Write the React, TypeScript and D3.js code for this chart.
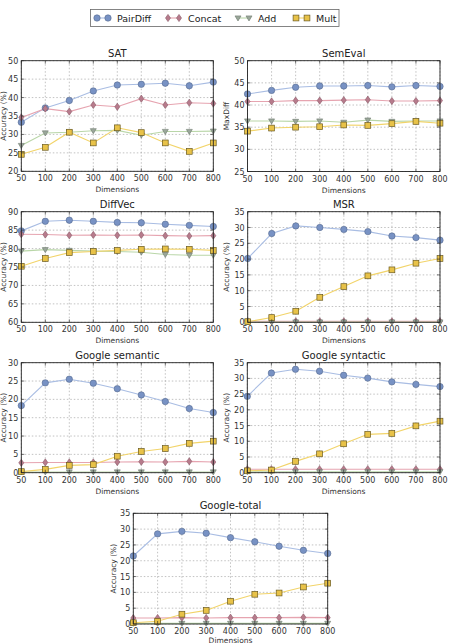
import React from "react";
import * as d3 from "d3";

const dims = ["50", "100", "200", "300", "400", "500", "600", "700", "800"];
const seriesNames = ["PairDiff", "Concat", "Add", "Mult"];

const satPairDiff = [33.3, 37.2, 39.2, 41.8, 43.4, 43.6, 43.9, 43.2, 44.2];
const satConcat = [34.6, 37.0, 36.2, 38.0, 37.5, 39.7, 38.0, 38.6, 38.4];
const satAdd = [27.0, 30.4, 30.6, 31.0, 31.1, 29.8, 30.8, 30.8, 30.9];
const satMult = [24.6, 26.5, 30.6, 27.7, 31.8, 30.5, 27.7, 25.4, 27.7];

const semPairDiff = [42.5, 43.3, 44.0, 44.3, 44.3, 44.4, 44.1, 44.4, 44.2];
const semConcat = [40.8, 40.8, 41.0, 41.0, 41.1, 41.2, 40.9, 40.9, 41.0];
const semAdd = [36.4, 36.4, 36.3, 36.4, 36.1, 36.6, 36.3, 36.4, 36.4];
const semMult = [34.1, 34.8, 35.0, 35.1, 35.5, 35.4, 35.8, 36.3, 35.9];

const dvPairDiff = [84.8, 87.4, 87.7, 87.4, 87.1, 87.0, 86.6, 86.3, 86.0];
const dvConcat = [83.9, 83.8, 83.6, 83.7, 83.6, 83.7, 83.5, 83.4, 83.5];
const dvAdd = [79.3, 79.7, 79.5, 79.3, 79.2, 79.0, 78.4, 78.2, 78.2];
const dvMult = [75.2, 77.3, 78.9, 79.2, 79.5, 79.8, 79.9, 79.8, 79.5];

const msrPairDiff = [20.2, 28.1, 30.5, 30.0, 29.4, 28.7, 27.3, 26.8, 26.0];
const msrConcat = [0.3, 0.3, 0.3, 0.3, 0.3, 0.3, 0.3, 0.3, 0.3];
const msrAdd = [0.1, 0.1, 0.1, 0.1, 0.1, 0.1, 0.1, 0.1, 0.1];
const msrMult = [0.2, 1.5, 3.5, 7.9, 11.3, 14.7, 16.6, 18.7, 20.2];

const gsemPairDiff = [18.3, 24.5, 25.5, 24.4, 22.9, 21.2, 19.4, 17.5, 16.4];
const gsemConcat = [2.7, 2.8, 2.8, 2.8, 2.9, 3.0, 2.9, 3.1, 2.9];
const gsemAdd = [0.2, 0.2, 0.2, 0.2, 0.2, 0.2, 0.2, 0.2, 0.2];
const gsemMult = [0.3, 0.9, 2.0, 2.2, 4.5, 5.8, 6.6, 8.0, 8.6];

const gsynPairDiff = [24.3, 31.7, 32.9, 32.3, 31.0, 30.1, 28.9, 28.1, 27.4];
const gsynConcat = [1.1, 1.1, 1.1, 1.1, 1.1, 1.1, 1.1, 1.1, 1.1];
const gsynAdd = [0.3, 0.3, 0.3, 0.3, 0.3, 0.3, 0.3, 0.3, 0.3];
const gsynMult = [0.6, 0.85, 3.6, 6.0, 9.2, 12.2, 12.5, 14.9, 16.4];

const gtotPairDiff = [21.5, 28.5, 29.3, 28.7, 27.3, 26.0, 24.6, 23.3, 22.3];
const gtotConcat = [1.9, 1.9, 2.0, 1.9, 2.0, 2.0, 2.0, 2.1, 2.0];
const gtotAdd = [0.2, 0.2, 0.2, 0.2, 0.2, 0.2, 0.2, 0.2, 0.2];
const gtotMult = [0.4, 0.85, 3.1, 4.3, 7.2, 9.4, 9.8, 11.7, 12.9];

const ticks20_50 = [20, 25, 30, 35, 40, 45, 50];
const ticks25_50 = [25, 30, 35, 40, 45, 50];
const ticks60_90 = [60, 65, 70, 75, 80, 85, 90];
const ticks0_35 = [0, 5, 10, 15, 20, 25, 30, 35];
const ticks0_30 = [0, 5, 10, 15, 20, 25, 30];

const FONT = "DejaVu Sans, sans-serif";
const styles = [
  { line: "#a9bde3", fill: "#7892c4", stroke: "#56698f", shape: "circle" },
  { line: "#e6a4b0", fill: "#b77b8c", stroke: "#8a5a68", shape: "diamond" },
  { line: "#b9d6a8", fill: "#9aa79a", stroke: "#6f7a6f", shape: "triangle" },
  { line: "#f2d46a", fill: "#e8c248", stroke: "#6a5a20", shape: "square" },
];

function Marker({ x, y, s }: { x: number; y: number; s: any }) {
  if (s.shape === "circle")
    return <circle cx={x} cy={y} r={3.2} fill={s.fill} stroke={s.stroke} strokeWidth={0.6} />;
  if (s.shape === "diamond") {
    const r = 3.6;
    return (
      <path d={`M${x},${y - r}L${x + r * 0.7},${y}L${x},${y + r}L${x - r * 0.7},${y}Z`} fill={s.fill} stroke={s.stroke} strokeWidth={0.6} />
    );
  }
  if (s.shape === "triangle") {
    const r = 3;
    return (
      <path d={`M${x - r},${y - r * 0.7}L${x + r},${y - r * 0.7}L${x},${y + r}Z`} fill={s.fill} stroke={s.stroke} strokeWidth={0.6} />
    );
  }
  const h = 2.9;
  return <rect x={x - h} y={y - h} width={2 * h} height={2 * h} fill={s.fill} stroke={s.stroke} strokeWidth={0.7} />;
}

function Panel(props: {
  left: number; top: number; right: number; bottom: number;
  title: string; ylabel: string; ylabelX: number; yTicks: number[]; series: number[][]; xlabelDy?: number;
}) {
  const { left, top, right, bottom, title, ylabel, ylabelX, yTicks, series } = props;
  const xlabelDy = props.xlabelDy ?? 21;
  const x = d3.scalePoint<string>().domain(dims).range([left, right]);
  const y = d3.scaleLinear().domain([yTicks[0], yTicks[yTicks.length - 1]]).range([bottom, top]);
  const line = d3.line<number>().x((_, i) => x(dims[i])!).y((v) => y(v));
  const cx = (left + right) / 2;
  return (
    <g>
      {dims.map((d) => (
        <line key={"gx" + d} x1={x(d)} x2={x(d)} y1={top} y2={bottom} stroke="#999" strokeWidth={0.6} strokeDasharray="1.5,2" />
      ))}
      {yTicks.map((t) => (
        <line key={"gy" + t} x1={left} x2={right} y1={y(t)} y2={y(t)} stroke="#999" strokeWidth={0.6} strokeDasharray="1.5,2" />
      ))}
      {series.map((vals, k) => (
        <path key={"l" + k} d={line(vals) || ""} fill="none" stroke={styles[k].line} strokeWidth={1.1} />
      ))}
      {series.map((vals, k) => (
        <g key={"m" + k}>
          {vals.map((v, i) => (
            <Marker key={i} x={x(dims[i])!} y={y(v)} s={styles[k]} />
          ))}
        </g>
      ))}
      <rect x={left} y={top} width={right - left} height={bottom - top} fill="none" stroke="#222" strokeWidth={0.9} />
      {dims.map((d) => (
        <g key={"tx" + d}>
          <line x1={x(d)} x2={x(d)} y1={bottom} y2={bottom - 3} stroke="#222" strokeWidth={0.6} />
          <line x1={x(d)} x2={x(d)} y1={top} y2={top + 3} stroke="#222" strokeWidth={0.6} />
          <text x={x(d)} y={bottom + 10} textAnchor="middle" fontSize={8} fill="#333">{d}</text>
        </g>
      ))}
      {yTicks.map((t) => (
        <g key={"ty" + t}>
          <line x1={left} x2={left + 3} y1={y(t)} y2={y(t)} stroke="#222" strokeWidth={0.6} />
          <line x1={right} x2={right - 3} y1={y(t)} y2={y(t)} stroke="#222" strokeWidth={0.6} />
          <text x={left - 3} y={y(t) + 3} textAnchor="end" fontSize={8} fill="#333">{t}</text>
        </g>
      ))}
      <text x={cx} y={top - 4} textAnchor="middle" fontSize={10} fill="#222">{title}</text>
      <text x={cx} y={bottom + xlabelDy} textAnchor="middle" fontSize={7.5} fill="#333">Dimensions</text>
      <text transform={`translate(${ylabelX},${(top + bottom) / 2}) rotate(-90)`} textAnchor="middle" fontSize={7.5} fill="#333">{ylabel}</text>
    </g>
  );
}

export default function App() {
  const legendX = [97, 168, 238, 296];
  return (
    <svg width={449} height={644} style={{ position: "absolute", left: 0, top: 0, fontFamily: FONT }}>
      <rect width={449} height={644} fill="#fff" />
      <rect x={90.5} y={9.5} width={248.5} height={17} fill="#fff" stroke="#666" strokeWidth={0.8} />
      {seriesNames.map((n, k) => (
        <g key={n}>
          <line x1={legendX[k]} x2={legendX[k] + 11} y1={18} y2={18} stroke={styles[k].line} strokeWidth={1.1} />
          <Marker x={legendX[k]} y={18} s={styles[k]} />
          <Marker x={legendX[k] + 11} y={18} s={styles[k]} />
          <text x={legendX[k] + 20} y={21.5} fontSize={9.5} fill="#222">{n}</text>
        </g>
      ))}
      <Panel left={21.3} top={60.7} right={213.3} bottom={171.3} title="SAT" ylabel="Accuracy (%)" ylabelX={6}
        yTicks={ticks20_50} series={[satPairDiff, satConcat, satAdd, satMult]} />
      <Panel left={247.5} top={60.7} right={440} bottom={171.5} title="SemEval" ylabel="MaxDiff" ylabelX={229}
        yTicks={ticks25_50} series={[semPairDiff, semConcat, semAdd, semMult]} />
      <Panel left={21.3} top={211.7} right={213.3} bottom={322.3} title="DiffVec" ylabel="Accuracy (%)" ylabelX={6}
        yTicks={ticks60_90} series={[dvPairDiff, dvConcat, dvAdd, dvMult]} />
      <Panel left={247.7} top={211.7} right={440} bottom={322.3} title="MSR" ylabel="Accuracy (%)" ylabelX={229}
        yTicks={ticks0_35} series={[msrPairDiff, msrConcat, msrAdd, msrMult]} />
      <Panel left={21.3} top={362.7} right={213.3} bottom={472.7} title="Google semantic" ylabel="Accuracy (%)" ylabelX={6}
        yTicks={ticks0_30} series={[gsemPairDiff, gsemConcat, gsemAdd, gsemMult]} />
      <Panel left={247.3} top={362.7} right={440} bottom={472.7} title="Google syntactic" ylabel="Accuracy (%)" ylabelX={229}
        yTicks={ticks0_35} series={[gsynPairDiff, gsynConcat, gsynAdd, gsynMult]} />
      <Panel left={133.3} top={513.3} right={327.7} bottom={624} title="Google-total" ylabel="Accuracy (%)" ylabelX={116}
        yTicks={ticks0_35} series={[gtotPairDiff, gtotConcat, gtotAdd, gtotMult]} xlabelDy={18.5} />
    </svg>
  );
}
